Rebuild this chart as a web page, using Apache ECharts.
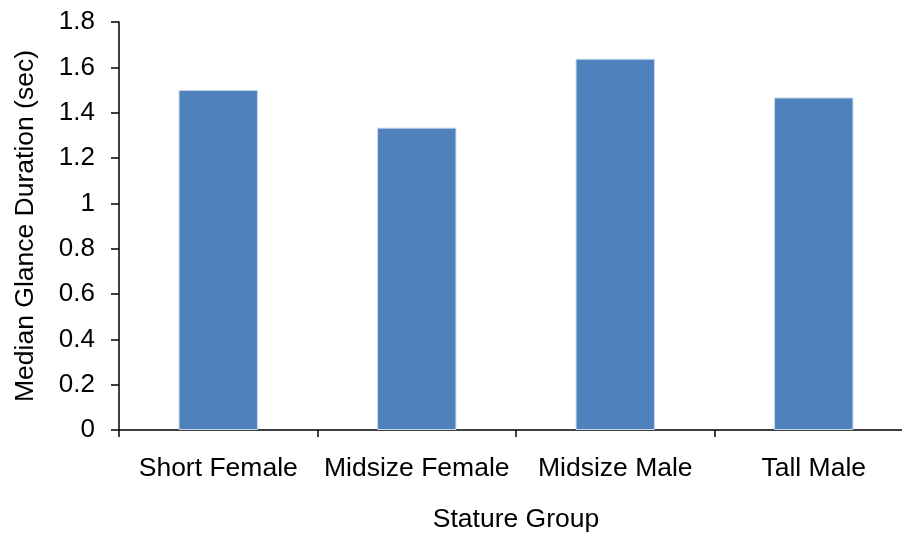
<!DOCTYPE html>
<html>
<head>
<meta charset="utf-8">
<script src="https://cdn.jsdelivr.net/npm/echarts@6/dist/echarts.min.js"></script>
<style>
html,body{margin:0;padding:0;background:#fff;}
#chart{width:902px;height:533px;}
</style>
</head>
<body>
<div id="chart"></div>
<script>
const categories = ['Short Female', 'Midsize Female', 'Midsize Male', 'Tall Male'];
const medianGlance = [1.5, 1.334, 1.638, 1.467];
const yTicks = { min: 0, max: 1.8, interval: 0.2 };
const xTitle = 'Stature Group';
const yTitle = 'Median Glance Duration (sec)';

const font = 'Liberation Sans, Arial, sans-serif';
const chart = echarts.init(document.getElementById('chart'), null, { renderer: 'canvas' });
chart.setOption({
  animation: false,
  backgroundColor: '#ffffff',
  grid: { left: 119, top: 22, right: -11, bottom: 103, containLabel: false, outerBoundsMode: 'none' },
  xAxis: {
    type: 'category',
    data: categories,
    name: xTitle,
    nameLocation: 'middle',
    nameGap: 76,
    nameTextStyle: { fontFamily: font, fontSize: 26.5, color: '#000' },
    axisLine: { lineStyle: { color: '#000', width: 1.5 } },
    axisTick: { show: true, length: 7, lineStyle: { color: '#000', width: 1.5 } },
    axisLabel: { fontFamily: font, fontSize: 26.5, color: '#000', margin: 25, interval: 0 },
    splitLine: { show: false }
  },
  yAxis: {
    type: 'value',
    min: yTicks.min,
    max: yTicks.max,
    interval: yTicks.interval,
    name: yTitle,
    nameLocation: 'middle',
    nameGap: 80,
    nameRotate: 90,
    nameTextStyle: { fontFamily: font, fontSize: 26.5, color: '#000' },
    axisLine: { show: true, lineStyle: { color: '#000', width: 1.5 } },
    axisTick: { show: true, length: 8, lineStyle: { color: '#000', width: 1.5 } },
    axisLabel: {
      fontFamily: font, fontSize: 26, color: '#000', margin: 24,
      formatter: v => String(Math.round(v * 10) / 10)
    },
    splitLine: { show: false }
  },
  series: [{
    type: 'bar',
    data: medianGlance,
    barWidth: '40%',
    itemStyle: { color: '#4F81BD', borderColor: '#C9D7EA', borderWidth: 1 }
  }]
});
</script>
</body>
</html>
